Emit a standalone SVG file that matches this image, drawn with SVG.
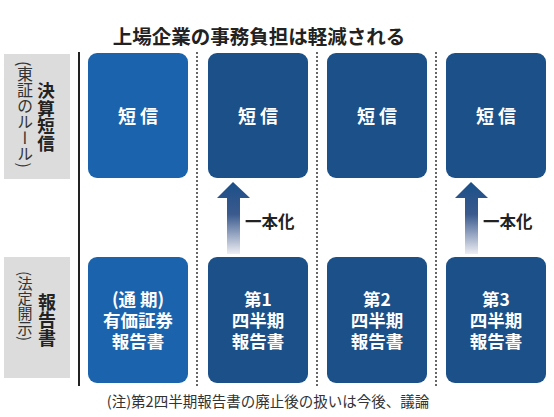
<svg xmlns="http://www.w3.org/2000/svg" width="554" height="417" viewBox="0 0 554 417">
<style>
.t{font-family:"Noto Sans CJK JP","Noto Sans",sans-serif;}
.title{font-size:19.5px;font-weight:bold;fill:#222;}
.box1{fill:#1b64ad;}
.box{fill:#1b5088;}
.bt{font-size:17.5px;font-weight:bold;fill:#fff;text-anchor:middle;}
.lab{fill:#dcdcdc;}
.vb{font-size:17.5px;font-weight:bold;fill:#222;writing-mode:vertical-rl;}
.vn{font-size:16px;fill:#333;writing-mode:vertical-rl;}
.sep{stroke:#666;stroke-width:2;stroke-dasharray:2 2;fill:none;}
.ar{fill:url(#g);}
.at{font-size:16.5px;font-weight:bold;fill:#222;}
.note{font-size:14.5px;fill:#333;text-anchor:middle;}
</style>
<defs>
<linearGradient id="g" x1="0" y1="0" x2="0" y2="1">
<stop offset="0" stop-color="#1b4f88"/>
<stop offset="0.45" stop-color="#3b5a8e"/>
<stop offset="1" stop-color="#eeeef3"/>
</linearGradient>
</defs>
<rect width="554" height="417" fill="#fff"/>
<text class="t title" x="259" y="44" text-anchor="middle">上場企業の事務負担は軽減される</text>

<g id="label-tanshin">
<rect class="lab" x="4" y="54" width="66" height="125"/>
<text class="t vn" x="25" y="61">(東証のルール)</text>
<text class="t vb" x="46" y="82">決算短信</text>
</g>
<g id="label-houkoku">
<rect class="lab" x="4" y="257" width="66" height="121"/>
<text class="t vn" x="25" y="271" style="font-size:15px">(法定開示)</text>
<text class="t vb" x="47" y="293" style="font-size:18px">報告書</text>
</g>
<line x1="79" y1="52" x2="79" y2="386" stroke="#222" stroke-width="2"/>

<g id="connectors">
<line class="sep" x1="197" y1="52" x2="197" y2="386"/>
<line class="sep" x1="317" y1="52" x2="317" y2="386"/>
<line class="sep" x1="436" y1="52" x2="436" y2="386"/>
<path class="ar" d="M233 182 L250 198 L240 198 L240 254 L227 254 L227 198 L217 198 Z"/>
<text class="t at" x="245" y="228">一本化</text>
<path class="ar" d="M471 182 L488 198 L478 198 L478 254 L465 254 L465 198 L455 198 Z"/>
<text class="t at" x="483" y="228">一本化</text>
</g>

<g id="tanshin1"><rect class="box1" x="88" y="53" width="100" height="125" rx="9"/><text class="t bt" x="138" y="123" style="font-size:18px">短 信</text></g>
<g id="tanshin2"><rect class="box" x="208" y="53" width="100" height="125" rx="9"/><text class="t bt" x="258" y="123" style="font-size:18px">短 信</text></g>
<g id="tanshin3"><rect class="box" x="327" y="53" width="100" height="125" rx="9"/><text class="t bt" x="377" y="123" style="font-size:18px">短 信</text></g>
<g id="tanshin4"><rect class="box" x="446" y="53" width="100" height="125" rx="9"/><text class="t bt" x="496" y="123" style="font-size:18px">短 信</text></g>

<g id="yuho"><rect class="box1" x="88" y="257" width="100" height="126" rx="9"/>
<text class="t bt" x="138" y="306">(通 期)<tspan x="138" dy="21">有価証券</tspan><tspan x="138" dy="21">報告書</tspan></text></g>
<g id="q1"><rect class="box" x="208" y="257" width="100" height="126" rx="9"/>
<text class="t bt" x="258" y="306">第1<tspan x="258" dy="21">四半期</tspan><tspan x="258" dy="21">報告書</tspan></text></g>
<g id="q2"><rect class="box" x="327" y="257" width="100" height="126" rx="9"/>
<text class="t bt" x="377" y="306">第2<tspan x="377" dy="21">四半期</tspan><tspan x="377" dy="21">報告書</tspan></text></g>
<g id="q3"><rect class="box" x="446" y="257" width="100" height="126" rx="9"/>
<text class="t bt" x="496" y="306">第3<tspan x="496" dy="21">四半期</tspan><tspan x="496" dy="21">報告書</tspan></text></g>

<text class="t note" x="268" y="407">(注)第2四半期報告書の廃止後の扱いは今後、議論</text>
</svg>
